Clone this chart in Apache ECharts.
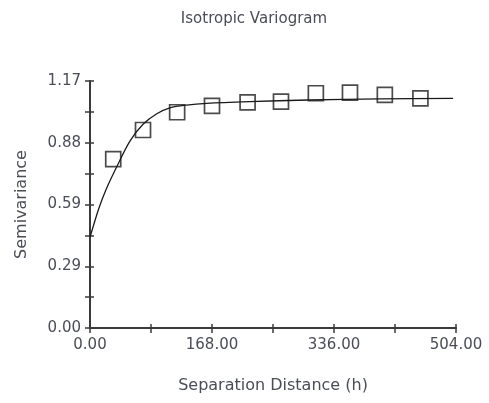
<!DOCTYPE html>
<html><head><meta charset="utf-8">
<script src="https://cdn.jsdelivr.net/npm/echarts@6/dist/echarts.min.js"></script>
<style>html,body{margin:0;padding:0;background:#fff}#c{width:489px;height:403px}</style>
</head><body><div id="c"></div>
<script>
// Experimental variogram points (lag distance, semivariance)
var lagX = [32, 73, 120, 168, 217, 263, 311, 358, 406, 455];
var semiY = [0.80, 0.938, 1.022, 1.052, 1.069, 1.072, 1.112, 1.115, 1.104, 1.088];
// Model curve
var modelX = [0, 12, 22, 37, 55, 73, 92, 110, 133, 161, 220, 300, 400, 500];
var modelY = [0.43, 0.565, 0.655, 0.765, 0.885, 0.965, 1.015, 1.043, 1.056, 1.064, 1.072, 1.08, 1.085, 1.088];
var xTickLabels = ['0.00', '168.00', '336.00', '504.00'];
var yTickLabels = ['0.00', '0.29', '0.59', '0.88', '1.17'];
var xMax = 504, xStep = 84;
var yMax = 1.17, yStep = 1.17 / 8;

var font = 'DejaVu Sans';
var txt = '#4a4d55';
var axisCol = '#3a3a3a';

function pairs(a, b) { return a.map(function (v, i) { return [v, b[i]]; }); }
function xLab(v) { var k = Math.round(v / xStep); return k % 2 === 0 ? xTickLabels[k / 2] : ''; }
function yLab(v) { var k = Math.round(v / yStep); return k % 2 === 0 ? yTickLabels[k / 2] : ''; }

var grid = { left: 90, right: 33, top: 81, bottom: 75 };
var baseX = { type: 'value', min: 0, max: xMax, interval: xStep, splitLine: { show: false } };
var baseY = { type: 'value', min: 0, max: yMax, interval: yStep, splitLine: { show: false } };

var chart = echarts.init(document.getElementById('c'), null, { renderer: 'canvas' });
chart.setOption({
  animation: false,
  title: {
    text: 'Isotropic Variogram', left: 249, top: 7, textAlign: 'center',
    textStyle: { fontFamily: font, fontSize: 15, fontWeight: 'normal', color: txt }
  },
  grid: grid,
  xAxis: [
    Object.assign({}, baseX, {
      name: 'Separation Distance (h)', nameLocation: 'middle', nameGap: 50,
      nameTextStyle: { fontFamily: font, fontSize: 16, color: txt },
      axisLine: { lineStyle: { color: axisCol, width: 2 } },
      axisTick: { length: 5, lineStyle: { color: axisCol, width: 1.5 } },
      axisLabel: { formatter: xLab, margin: 10, fontFamily: font, fontSize: 15, color: txt }
    }),
    Object.assign({}, baseX, {
      position: 'bottom',
      axisLine: { show: false },
      axisTick: { inside: true, length: 4, lineStyle: { color: axisCol, width: 1.5 } },
      axisLabel: { show: false }
    })
  ],
  yAxis: [
    Object.assign({}, baseY, {
      name: 'Semivariance', nameLocation: 'middle', nameGap: 60, nameRotate: 90,
      nameTextStyle: { fontFamily: font, fontSize: 16, color: txt },
      axisLine: { lineStyle: { color: axisCol, width: 2 } },
      axisTick: { length: 5, lineStyle: { color: axisCol, width: 1.5 } },
      axisLabel: { formatter: yLab, margin: 9, fontFamily: font, fontSize: 15, color: txt }
    }),
    Object.assign({}, baseY, {
      position: 'left',
      axisLine: { show: false },
      axisTick: { inside: true, length: 4, lineStyle: { color: axisCol, width: 1.5 } },
      axisLabel: { show: false }
    })
  ],
  series: [
    {
      type: 'line', data: pairs(modelX, modelY), smooth: 0.3,
      showSymbol: false, lineStyle: { color: '#1a1a1a', width: 1.3 }, z: 2
    },
    {
      type: 'scatter', data: pairs(lagX, semiY), symbol: 'rect', symbolSize: 15,
      itemStyle: { color: 'rgba(255,255,255,0)', borderColor: '#1e1e1e', borderWidth: 1.7 }, z: 3
    }
  ]
});
</script></body></html>
